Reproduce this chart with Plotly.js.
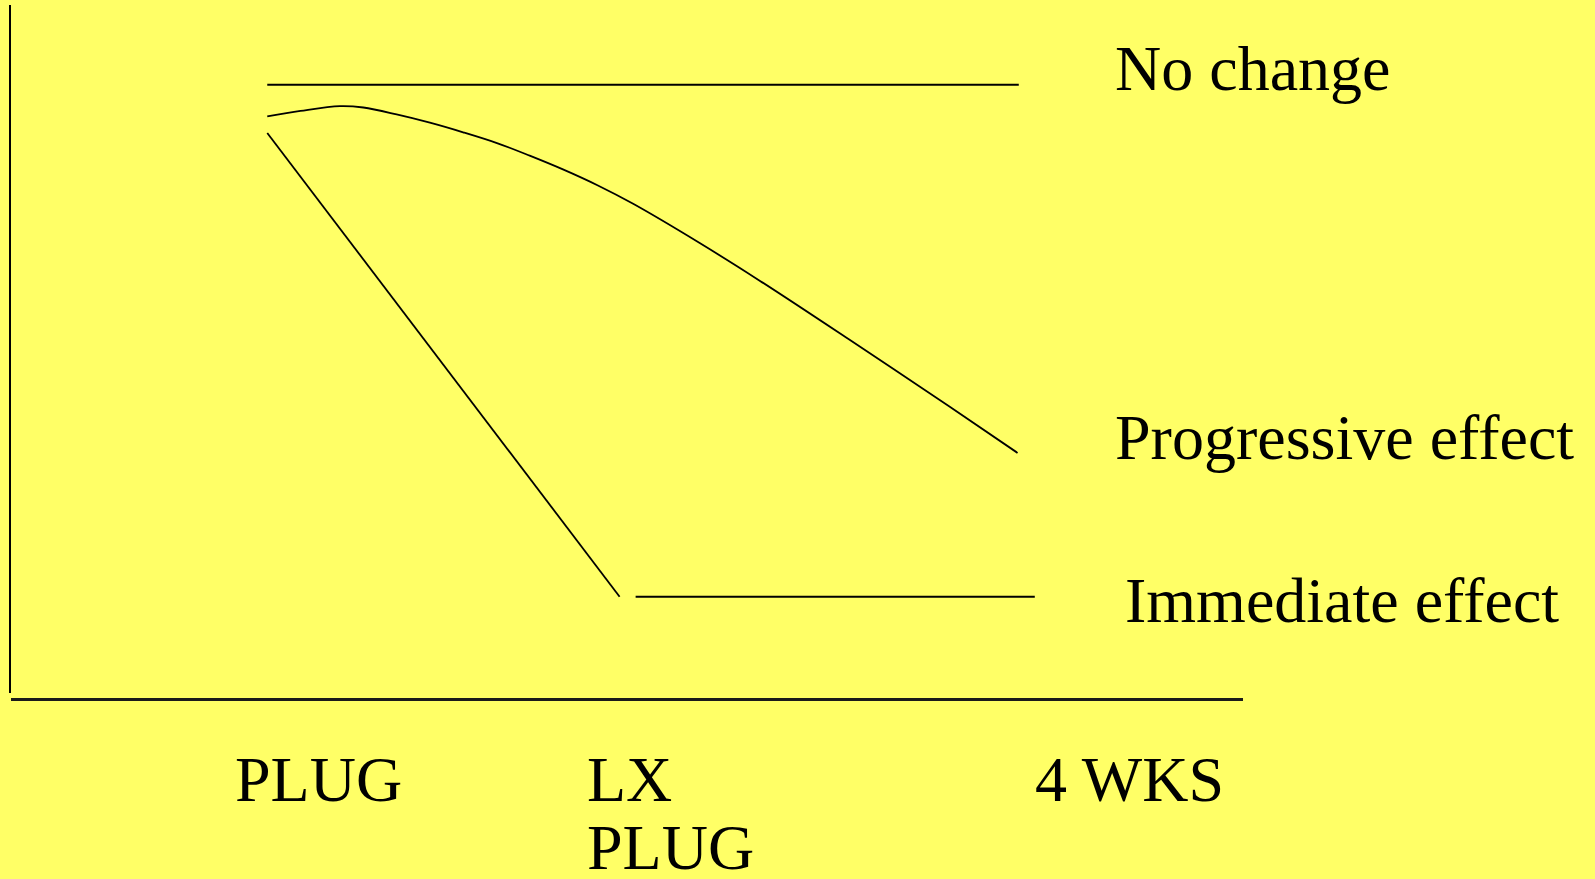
<!DOCTYPE html>
<html>
<head>
<meta charset="utf-8">
<script src="https://cdn.plot.ly/plotly-3.0.1.min.js"></script>
<style>
  html, body { margin: 0; padding: 0; background: #ffff66; }
  #chart { width: 1595px; height: 879px; }
</style>
</head>
<body>
<div id="chart"></div>
<script>
// ---- Data (abstract units: x = time 0..100, y = response 0..100) ----
const noChangeX = [20.8, 81.8];
const noChangeY = [88.4, 88.4];

const progressiveX = [20.8, 23.5, 26.7, 28.6, 31.3, 34.0, 36.7, 39.5, 42.1, 44.8, 47.6, 50.5, 55.9, 60.8, 68.1, 76.2, 81.7];
const progressiveY = [83.8, 84.6, 85.3, 85.1, 84.1, 82.9, 81.5, 79.9, 78.1, 76.1, 73.8, 71.1, 65.4, 59.9, 51.3, 41.6, 34.9];

const immediateDropX = [20.8, 49.4];
const immediateDropY = [81.4, 14.0];
const immediateFlatX = [50.7, 83.1];
const immediateFlatY = [14.0, 14.0];

const seriesLabels = ["No change", "Progressive effect", "Immediate effect"];
const tickLabels = [["PLUG"], ["LX", "PLUG"], ["4 WKS"]];

// ---- label placement (layout only) ----
const seriesLabelPos = [[89.45, 90.7], [89.45, 37.2], [90.25, 13.5]];
const tickLabelX = [18.05, 46.55, 82.95];
const tickLinePaperY = [-0.1153, -0.2133];

const FONT = "'Liberation Serif', 'Times New Roman', serif";
const FONT_SIZE = 64;
const lineStyle = { color: '#000000', width: 1.8 };

const traces = [
  { x: noChangeX, y: noChangeY, mode: 'lines', line: Object.assign({}, lineStyle, {width: 2}), name: seriesLabels[0] },
  { x: progressiveX, y: progressiveY, mode: 'lines', line: Object.assign({}, lineStyle, {shape: 'spline', smoothing: 1}), name: seriesLabels[1] },
  { x: immediateDropX, y: immediateDropY, mode: 'lines', line: lineStyle, name: seriesLabels[2] },
  { x: immediateFlatX, y: immediateFlatY, mode: 'lines', line: Object.assign({}, lineStyle, {width: 2}), name: seriesLabels[2] }
];

const annotations = [];
seriesLabels.forEach((t, i) => {
  annotations.push({
    text: t, x: seriesLabelPos[i][0], y: seriesLabelPos[i][1], xref: 'x', yref: 'y',
    xanchor: 'left', yanchor: 'middle', showarrow: false,
    font: { family: FONT, size: FONT_SIZE, color: '#000' }
  });
});
tickLabels.forEach((lines, i) => {
  lines.forEach((t, j) => {
    annotations.push({
      text: t, x: tickLabelX[i], y: tickLinePaperY[j], xref: 'x', yref: 'paper',
      xanchor: 'left', yanchor: 'middle', showarrow: false,
      font: { family: FONT, size: FONT_SIZE, color: '#000' }
    });
  });
});

const layout = {
  width: 1595, height: 879,
  paper_bgcolor: '#ffff66', plot_bgcolor: '#ffff66',
  margin: { l: 11, r: 352, t: 5, b: 180, pad: 0 },
  showlegend: false,
  hovermode: false,
  xaxis: {
    range: [0, 100], showgrid: false, zeroline: false, showticklabels: false, ticks: '',
    showline: true, linecolor: '#1a1a1a', linewidth: 2.5, anchor: 'free', position: 0, fixedrange: true
  },
  yaxis: {
    range: [0, 100], domain: [6 / 694, 1], showgrid: false, zeroline: false, showticklabels: false, ticks: '',
    showline: true, linecolor: '#000000', linewidth: 2, fixedrange: true
  },
  annotations: annotations
};

Plotly.newPlot('chart', traces, layout, { displayModeBar: false, staticPlot: true });
</script>
</body>
</html>
